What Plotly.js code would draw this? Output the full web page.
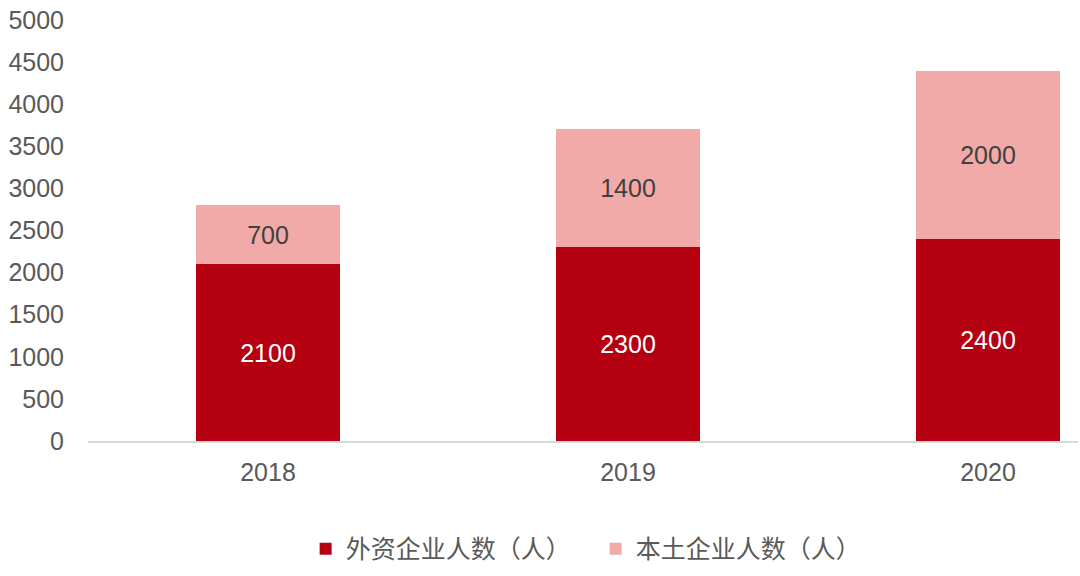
<!DOCTYPE html>
<html>
<head>
<meta charset="utf-8">
<script src="https://cdn.plot.ly/plotly-3.0.1.min.js"></script>
<style>
  html, body { margin: 0; padding: 0; background: #fff; }
  #chart { width: 1080px; height: 576px; }
</style>
</head>
<body>
<div id="chart"></div>
<script>
var years = ["2018", "2019", "2020"];
var foreignStaff = [2100, 2300, 2400];
var localStaff = [700, 1400, 2000];
var seriesNames = ["外资企业人数（人）", "本土企业人数（人）"];

var numFont = "Arial, 'Liberation Sans', sans-serif";

var foreign = {
  x: years,
  y: foreignStaff,
  name: seriesNames[0],
  type: "bar",
  width: 0.4,
  marker: { color: "#B50012" },
  text: foreignStaff.map(String),
  textposition: "inside",
  insidetextanchor: "middle",
  textfont: { family: numFont, size: 25, color: "#ffffff" },
  hoverinfo: "none"
};
var local = {
  x: years,
  y: localStaff,
  name: seriesNames[1],
  type: "bar",
  width: 0.4,
  marker: { color: "#F2AAA8" },
  text: localStaff.map(String),
  textposition: "inside",
  insidetextanchor: "middle",
  textfont: { family: numFont, size: 25, color: "#404040" },
  hoverinfo: "none"
};

var layout = {
  width: 1080,
  height: 576,
  barmode: "stack",
  margin: { l: 88, r: 2, t: 20, b: 135 },
  paper_bgcolor: "#ffffff",
  plot_bgcolor: "#ffffff",
  showlegend: true,
  font: { family: numFont, size: 25, color: "#595959" },
  xaxis: {
    type: "category",
    range: [-0.5, 2.25],
    showgrid: false,
    zeroline: false,
    showline: true,
    linecolor: "#D9D9D9",
    linewidth: 2,
    ticks: "outside",
    ticklen: 8,
    tickcolor: "rgba(0,0,0,0)",
    tickfont: { family: numFont, size: 25, color: "#595959" }
  },
  yaxis: {
    range: [0, 5000],
    dtick: 500,
    showgrid: false,
    zeroline: false,
    showline: false,
    ticks: "outside",
    ticklen: 18,
    tickcolor: "rgba(0,0,0,0)",
    tickfont: { family: numFont, size: 25, color: "#595959" }
  },
  legend: {
    orientation: "h",
    xref: "container",
    yref: "container",
    x: 0.283,
    xanchor: "left",
    y: 0.047,
    yanchor: "middle",
    font: { family: "'Noto Sans CJK SC', sans-serif", size: 25, color: "#595959" },
    itemwidth: 30,
    entrywidth: 245,
    entrywidthmode: "pixels",
    traceorder: "normal"
  }
};

Plotly.newPlot("chart", [foreign, local], layout, { staticPlot: true });
</script>
</body>
</html>
